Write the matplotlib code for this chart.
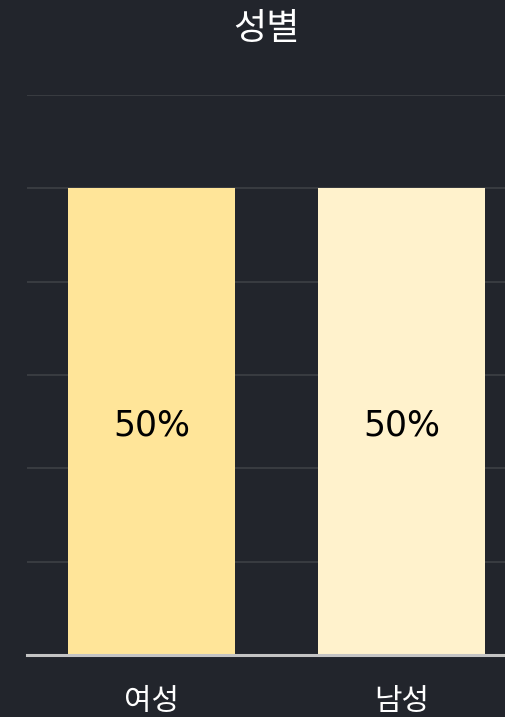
import matplotlib
matplotlib.use("Agg")
import matplotlib.pyplot as plt

plt.rcParams['font.family'] = ['Noto Sans CJK KR', 'DejaVu Sans']

categories = ['여성', '남성']
values = [50, 50]
labels = ['50%', '50%']
colors = ['#FFE599', '#FFF2CC']

bg = '#22252c'

fig = plt.figure(figsize=(5.05, 7.17), dpi=100, facecolor=bg)
ax = fig.add_axes([27/505, 62/717, 478/505, 560/717])
ax.set_facecolor(bg)

x = list(range(len(categories)))
bars = ax.bar(x, values, width=0.668, color=colors, zorder=2)
for b, lab in zip(bars, labels):
    ax.text(b.get_x() + b.get_width()/2, b.get_height()/2 - 0.4, lab,
            ha='center', va='center', fontsize=25, color='black', zorder=3,
            family='DejaVu Sans')

ax.set_xlim(-0.498, 1.414)
ax.set_ylim(0, 60)
ax.set_yticks(range(0, 61, 10))
ax.yaxis.grid(True, color='#3d4045', linewidth=1.2, zorder=0)
ax.tick_params(axis='y', left=False, labelleft=False)
ax.set_xticks(x)
ax.set_xticklabels(categories, color='white', fontsize=21.5, fontweight='light')
ax.tick_params(axis='x', length=0, pad=22)

for s in ['top', 'right', 'left']:
    ax.spines[s].set_visible(False)
ax.spines['bottom'].set_color('#c4c4c4')
ax.spines['bottom'].set_linewidth(2.2)
ax.spines['bottom'].set_zorder(4)

ax.set_title('성별', color='white', fontsize=26, pad=40, fontweight='light')

fig.savefig('out.png', dpi=100, facecolor=bg)
